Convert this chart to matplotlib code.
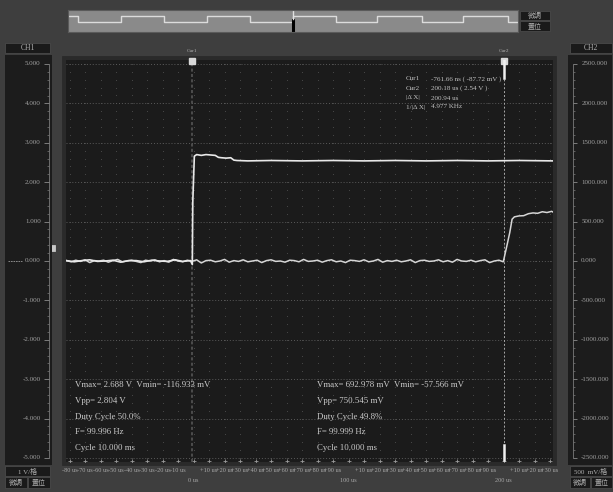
import numpy as np
import matplotlib.pyplot as plt
from matplotlib.patches import Rectangle
from matplotlib.transforms import blended_transform_factory as blend

plt.rcParams['font.family'] = ['Liberation Serif', 'Noto Sans CJK TC']

W, H = 613, 492

# CH1 trace: time (us), volts
ch1_t = [-82, -77, -72, -67, -62, -57, -52, -47, -42, -37, -32, -27, -22, -17, -12, -7, -2,
         -0.8, -0.5, 0.5, 2, 5, 8, 11, 14, 16, 18, 21, 24, 26, 28, 35, 50, 70, 90, 110,
         130, 150, 170, 190, 210, 232]
ch1_v = [0.01, -0.02, 0.01, 0.03, -0.01, 0.0, 0.02, -0.03, 0.01, 0.01, -0.02, 0.02, 0.0,
         -0.01, 0.03, -0.01, 0.01,
         -0.09, 1.5, 2.66, 2.70, 2.68, 2.70, 2.69, 2.68, 2.63, 2.62, 2.61, 2.62, 2.56, 2.55,
         2.54, 2.55, 2.54, 2.55, 2.54, 2.55, 2.54, 2.55, 2.54, 2.55, 2.54]

# CH2 trace: time (us), millivolts
ch2_t = [-82, -79, -76, -73, -70, -67, -64, -61, -58, -55, -52, -49, -46, -43, -40, -37,
         -34, -31, -28, -25, -22, -19, -16, -13, -10, -7, -4, -1, 2, 5, 8, 11, 14, 17, 20,
         23, 26, 29, 32, 35, 38, 41, 44, 47, 50, 53, 56, 59, 62, 65, 68, 71, 74, 77, 80,
         83, 86, 89, 92, 95, 98, 101, 104, 107, 110, 113, 116, 119, 122, 125, 128, 131,
         134, 137, 140, 143, 146, 149, 152, 155, 158, 161, 164, 167, 170, 173, 176, 179,
         182, 185, 188, 191, 194, 197,
         199.8, 200.4, 202, 204, 205.5, 207, 210, 213, 216, 219, 222, 225, 228, 231, 232]
ch2_mv = [5, -10, 10, -5, 15, -20, 5, 0, 10, -15, 5, 20, -10, 0, 10, -5,
          -20, 10, 0, 15, -10, 5, -15, 20, 0, -10, 10, -5, 15, -25, 5, 10, -10, 0, 20,
          -15, 5, -5, 15, -10, 0, 10, -20, 5, 15, -5, 0, -15, 10, 5, -10, 20, -5, 0, 10,
          -15, 5, 15, -10, 0, -20, 10, 5, -5, 15, -10, 0, 20, -15, 5, -5, 10,
          -10, 0, 15, -20, 5, 10, -5, 0, 15, -10, 5, -15, 20, 0, -5, 10,
          -10, 5, 15, -20, 0, 10,
          -10, 40, 180, 360, 530, 560, 572, 575, 600, 610, 605, 625, 615, 630, 620]

time_ticks = [-80, -70, -60, -50, -40, -30, -20, -10, 0, 10, 20, 30, 40, 50, 60, 70, 80, 90,
              100, 110, 120, 130, 140, 150, 160, 170, 180, 190, 200, 210, 220, 230]
ch1_ticks = [5, 4, 3, 2, 1, 0, -1, -2, -3, -4, -5]
ch2_ticks = [2500, 2000, 1500, 1000, 500, 0, -500, -1000, -1500, -2000, -2500]

cursor_t = [-0.76166, 200.18]
cursor_names = ['Cur1', 'Cur2']
cursor_rows = [('Cur1', '-761.66 ns ( -87.72 mV )'),
               ('Cur2', '200.18 us ( 2.54 V )'),
               ('|\u0394 X|', '200.94 us'),
               ('1/|\u0394 X|', '4.977 KHz')]

ch1_meas = ['Vmax= 2.688 V  Vmin= -116.933 mV', 'Vpp= 2.804 V', 'Duty Cycle 50.0%',
            'F= 99.996 Hz', 'Cycle 10.000 ms']
ch2_meas = ['Vmax= 692.978 mV  Vmin= -57.566 mV', 'Vpp= 750.545 mV', 'Duty Cycle 49.8%',
            'F= 99.999 Hz', 'Cycle 10.000 ms']

# overview strip (positions along strip, high/low)
ov_x = [0, 10, 53, 96, 139, 182, 225, 268, 309, 354, 395, 440, 450]
ov_level = [1, 0, 1, 0, 1, 0, 1, 0, 1, 0, 1, 0, 0]

fig = plt.figure(figsize=(W / 100, H / 100), dpi=100, facecolor='#3e3e3e')


def px_axes(x0, y0, x1, y1, **kw):
    a = fig.add_axes([x0 / W, 1 - y1 / H, (x1 - x0) / W, (y1 - y0) / H], **kw)
    return a


def overlay(z):
    a = px_axes(0, 0, W, H)
    a.set_xlim(0, W)
    a.set_ylim(H, 0)
    a.axis('off')
    a.set_zorder(z)
    a.patch.set_alpha(0)
    return a


bg = overlay(-5)
fg = overlay(20)


def box(x0, y0, x1, y1, fc='#1a1a1a', ec='#4a4a4a', text=None, fs=5.5, color='#b0b0b0'):
    bg.add_patch(Rectangle((x0, y0), x1 - x0, y1 - y0, fc=fc, ec=ec, lw=0.6))
    if text:
        bg.text((x0 + x1) / 2, (y0 + y1) / 2, text, ha='center', va='center', fontsize=fs, color=color)


# panels and buttons
box(5, 43, 50, 53, text='CH1')
box(570, 43, 612, 53, text='CH2')
box(520, 11, 550, 20, text='微調', fs=5)
box(520, 21, 550, 31, text='置位', fs=5)
box(5, 466, 50, 476, text='1 V/格', fs=5)
box(5, 477, 27, 488, text='微調', fs=5)
box(28, 477, 50, 488, text='置位', fs=5)
box(570, 466, 612, 476, text='500  mV/格', fs=5)
box(570, 477, 590, 488, text='微調', fs=5)
box(591, 477, 612, 488, text='置位', fs=5)
box(62, 56, 556, 465, fc='#2a2a2a', ec='#2a2a2a')
box(50, 245, 55, 251, fc='#c8c8c8', ec='#c8c8c8')

# overview strip
ov = px_axes(68, 10, 518, 32, facecolor='#8a8a8a')
ov.step(ov_x, ov_level, where='post', color='#dcdcdc', lw=1.0)
ov.set_xlim(0, 450)
ov.set_ylim(-1.6, 2.0)
ov.axvline(225, ymin=0, ymax=0.55, color='black', lw=2.2)
ov.axvline(225, ymin=0.6, ymax=1, color='#e0e0e0', lw=1.0)
ov.set_xticks([])
ov.set_yticks([])
for s in ov.spines.values():
    s.set_color('#5a5a5a')

# main scope screen
ax = px_axes(66, 60, 553, 462, facecolor='#1b1b1b')
ax.set_xlim(-82.3, 231.9)
ax.set_ylim(-5.1, 5.1)
ax.set_xticks([])
ax.set_yticks([])
for s in ax.spines.values():
    s.set_visible(False)

gx, gy = np.meshgrid(time_ticks, np.arange(-5, 5.01, 0.2))
ax.scatter(gx.ravel(), gy.ravel(), s=0.4, color='#4e4e4e', lw=0)
for v in ch1_ticks:
    ax.axhline(v, ls=(0, (1, 2)), lw=0.7, color='#5a5a5a')
ax.plot(time_ticks, [-5.07] * len(time_ticks), ls='none', marker='+', ms=3, mew=0.6, color='#9a9a9a')

ax.axvline(cursor_t[0], color='#5a5a5a', ls=(0, (2, 1.5)), lw=1.1)
ax.axvline(cursor_t[1], color='#a8a8a8', ls=(0, (2, 2)), lw=0.7)

ax.plot(ch2_t, np.array(ch2_mv) / 500, color='#d6d6d6', lw=1.1)
ax.plot(ch1_t, ch1_v, color='#e8e8e8', lw=1.2)

tr = blend(ax.transData, ax.transAxes)
for ct, nm in zip(cursor_t, cursor_names):
    ax.plot([ct], [5.08], marker='s', ms=4, color='#d8d8d8', clip_on=False)
    ax.text(ct, 1.018, nm, transform=tr, ha='center', va='bottom', fontsize=3.8, color='#b0b0b0')
ax.plot([cursor_t[1]] * 2, [5.1, 4.65], color='#f0f0f0', lw=1.8)
ax.plot([cursor_t[1]] * 2, [-4.67, -5.05], color='#f0f0f0', lw=1.8)

# cursor readouts
row_y = [79, 88, 98, 107]
for (lab, val), yp in zip(cursor_rows, row_y):
    fg.text(406, yp, lab, fontsize=5.1, color='#c0c0c0', va='center')
    fg.text(431, yp, val, fontsize=5.1, color='#c0c0c0', va='center')

# measurements
meas_y = [385, 401, 417, 432, 448]
for txt, yp in zip(ch1_meas, meas_y):
    fg.text(75, yp, txt, fontsize=6.3, color='#cccccc', va='center')
for txt, yp in zip(ch2_meas, meas_y):
    fg.text(317, yp, txt, fontsize=6.3, color='#cccccc', va='center')

# time labels (two rows, like the scope)
for t in time_ticks:
    if t % 100 == 0:
        lab, yy = f'{t} us', -0.047
    elif t < 0:
        lab, yy = f'{t} us', -0.02
    else:
        lab, yy = f'+{t % 100} us', -0.02
    ax.text(t, yy, lab, transform=tr, ha='center', va='center', fontsize=4.5, color='#a8a8a8')

# CH1 scale panel
lp = px_axes(5, 55, 52, 465)
lp.set_xlim(0, 1)
lp.set_ylim(-5.178, 5.228)
lp.axis('off')
lp.add_patch(Rectangle((0, -5.178), 1, 10.406, fc='#1c1c1c', ec='none'))
lp.vlines(0.93, -5, 5, color='#7a7a7a', lw=0.6)
lp.hlines(ch1_ticks, 0.84, 0.93, color='#8a8a8a', lw=0.6)
lp.hlines(np.arange(-5, 5.01, 0.2), 0.89, 0.93, color='#7a7a7a', lw=0.5)
for v in ch1_ticks:
    lp.text(0.76, v, f'{v:.3f}', ha='right', va='center', fontsize=5, color='#a0a0a0')
lp.hlines(0, 0.06, 0.36, color='#9a9a9a', lw=0.6, ls=(0, (2, 1)))

# CH2 scale panel
rp = px_axes(568, 55, 612, 465)
rp.set_xlim(0, 1)
rp.set_ylim(-5.178 * 500, 5.228 * 500)
rp.axis('off')
rp.add_patch(Rectangle((0, -5.178 * 500), 1, 10.406 * 500, fc='#1c1c1c', ec='none'))
rp.vlines(0.11, -2500, 2500, color='#7a7a7a', lw=0.6)
rp.hlines(ch2_ticks, 0.11, 0.21, color='#8a8a8a', lw=0.6)
rp.hlines(np.arange(-2500, 2501, 100), 0.11, 0.16, color='#7a7a7a', lw=0.5)
for v in ch2_ticks:
    rp.text(0.3, v, f'{v:.3f}', ha='left', va='center', fontsize=5, color='#a0a0a0')

fig.savefig('out.png', dpi=100, facecolor=fig.get_facecolor())
